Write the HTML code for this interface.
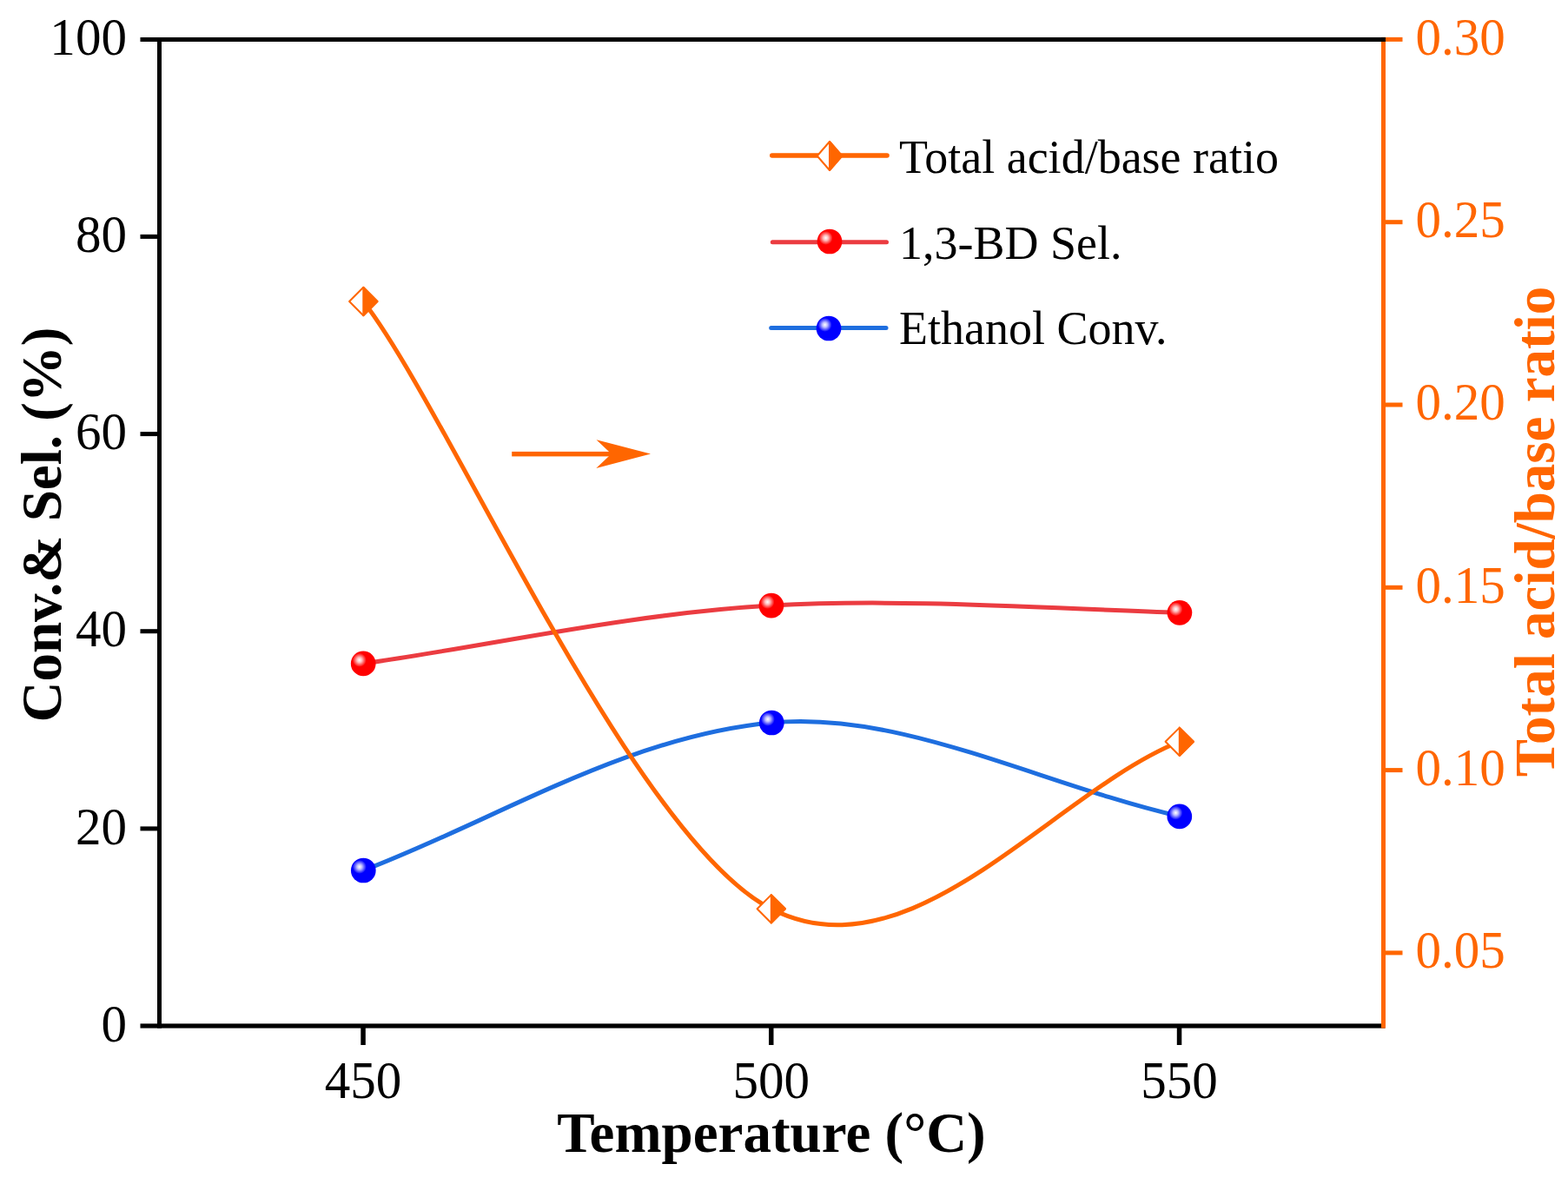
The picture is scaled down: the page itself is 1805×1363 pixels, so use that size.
<!DOCTYPE html>
<html><head><meta charset="utf-8"><title>Chart</title>
<style>html,body{margin:0;padding:0;background:#fff;}body{width:1805px;height:1363px;overflow:hidden;}svg{display:block;}</style>
</head><body>
<svg width="1805" height="1363" viewBox="0 0 1805 1363"><defs>
<radialGradient id="hl" cx="0.5" cy="0.5" r="0.5"><stop offset="0" stop-color="#fff" stop-opacity="1"/><stop offset="0.35" stop-color="#fff" stop-opacity="0.75"/><stop offset="1" stop-color="#fff" stop-opacity="0"/></radialGradient>
</defs><rect width="1805" height="1363" fill="#fff"/><path d="M418.2,763.9 C556.0,744.9 721.4,706.7 887.9,697.1 C1039.0,688.4 1217.5,701.0 1357.9,705.3" fill="none" stroke="#EB3C41" stroke-width="5"/><path d="M418.3,1002.0 C571.7,943.7 719.8,847.7 888.3,832.0 C1038.1,818.0 1196.1,902.4 1357.8,939.8" fill="none" stroke="#1E6EDF" stroke-width="5"/><path d="M418.3,347.0 C518.2,475.8 728.6,965.4 887.8,1046.3 C1050.3,1128.8 1211.9,912.1 1357.8,853.8" fill="none" stroke="#FF6600" stroke-width="5"/><circle cx="418.2" cy="763.9" r="14.35" fill="#FF0000"/><circle cx="413.8" cy="759.8" r="8" fill="url(#hl)"/><circle cx="887.9" cy="697.1" r="14.35" fill="#FF0000"/><circle cx="883.5" cy="693.0" r="8" fill="url(#hl)"/><circle cx="1357.9" cy="705.3" r="14.35" fill="#FF0000"/><circle cx="1353.5" cy="701.2" r="8" fill="url(#hl)"/><circle cx="418.3" cy="1002" r="14.35" fill="#0000FF"/><circle cx="413.9" cy="997.9" r="8" fill="url(#hl)"/><circle cx="888.3" cy="832" r="14.35" fill="#0000FF"/><circle cx="883.9" cy="827.9" r="8" fill="url(#hl)"/><circle cx="1357.8" cy="939.8" r="14.35" fill="#0000FF"/><circle cx="1353.4" cy="935.7" r="8" fill="url(#hl)"/><path d="M418.3,330.8 L434.5,347.0 L418.3,363.2 L402.1,347.0 Z" fill="#fff" stroke="#FF6600" stroke-width="2.0" stroke-linejoin="round"/><path d="M418.3,330.8 L434.5,347.0 L418.3,363.2 Z" fill="#FF6600" stroke="#FF6600" stroke-width="2.0" stroke-linejoin="round"/><path d="M887.8,1030.1 L904.0,1046.3 L887.8,1062.5 L871.6,1046.3 Z" fill="#fff" stroke="#FF6600" stroke-width="2.0" stroke-linejoin="round"/><path d="M887.8,1030.1 L904.0,1046.3 L887.8,1062.5 Z" fill="#FF6600" stroke="#FF6600" stroke-width="2.0" stroke-linejoin="round"/><path d="M1357.8,837.6 L1374.0,853.8 L1357.8,870.0 L1341.6,853.8 Z" fill="#fff" stroke="#FF6600" stroke-width="2.0" stroke-linejoin="round"/><path d="M1357.8,837.6 L1374.0,853.8 L1357.8,870.0 Z" fill="#FF6600" stroke="#FF6600" stroke-width="2.0" stroke-linejoin="round"/><g fill="#000"><rect x="181" y="43" width="5" height="1140.6"/><rect x="161.5" y="1178.4" width="1433" height="5.2"/><rect x="161.5" y="951.4" width="20" height="5"/><rect x="161.5" y="724.2" width="20" height="5"/><rect x="161.5" y="497.1" width="20" height="5"/><rect x="161.5" y="269.9" width="20" height="5"/><rect x="415.3" y="1183" width="5.5" height="20"/><rect x="885.0" y="1183" width="5.5" height="20"/><rect x="1354.8" y="1183" width="5.5" height="20"/></g><g fill="#FF6600"><rect x="1590" y="42.8" width="5" height="1140.8"/><rect x="1595" y="1094.4" width="19.5" height="5"/><rect x="1595" y="884.1" width="19.5" height="5"/><rect x="1595" y="673.8" width="19.5" height="5"/><rect x="1595" y="463.5" width="19.5" height="5"/><rect x="1595" y="253.2" width="19.5" height="5"/><rect x="1595" y="42.9" width="19.5" height="5"/></g><rect x="161.5" y="43" width="1433.5" height="5" fill="#000"/><g font-family="Liberation Serif, serif" font-size="60" fill="#000" text-anchor="end"><text transform="translate(146,1198.6) scale(0.985,1.025)">0</text><text transform="translate(146,971.5) scale(0.985,1.025)">20</text><text transform="translate(146,744.3) scale(0.985,1.025)">40</text><text transform="translate(146,517.2) scale(0.985,1.025)">60</text><text transform="translate(146,290.0) scale(0.985,1.025)">80</text><text transform="translate(146,62.9) scale(0.985,1.025)">100</text></g><g font-family="Liberation Serif, serif" font-size="60" fill="#000" text-anchor="middle"><text transform="translate(418.0,1264.3) scale(0.985,1.025)">450</text><text transform="translate(887.8,1264.3) scale(0.985,1.025)">500</text><text transform="translate(1357.5,1264.3) scale(0.985,1.025)">550</text></g><g font-family="Liberation Serif, serif" font-size="60" fill="#FF6600" text-anchor="start"><text transform="translate(1629.5,1114.1) scale(0.985,1.025)">0.05</text><text transform="translate(1629.5,903.8) scale(0.985,1.025)">0.10</text><text transform="translate(1629.5,693.5) scale(0.985,1.025)">0.15</text><text transform="translate(1629.5,483.2) scale(0.985,1.025)">0.20</text><text transform="translate(1629.5,272.9) scale(0.985,1.025)">0.25</text><text transform="translate(1629.5,62.6) scale(0.985,1.025)">0.30</text></g><text x="888" y="1326" font-family="Liberation Serif, serif" font-weight="bold" font-size="65" text-anchor="middle" fill="#000">Temperature (°C)</text><text transform="translate(70,604) rotate(-90)" font-family="Liberation Serif, serif" font-weight="bold" font-size="65" text-anchor="middle" fill="#000">Conv.&amp; Sel. (%)</text><text transform="translate(1788.5,612) rotate(-90)" font-family="Liberation Serif, serif" font-weight="bold" font-size="65" text-anchor="middle" fill="#FF6600">Total acid/base ratio</text><rect x="589.2" y="519.9" width="115" height="5.5" fill="#FF6600"/><path d="M749,522.6 L686.5,506.2 L703.7,522.6 L686.3,538.9 Z" fill="#FF6600"/><line x1="888.8" y1="179" x2="1021" y2="179" stroke="#FF6600" stroke-width="5.6" stroke-linecap="round"/><path d="M955.0,163.0 L969.3,179.5 L955.0,196.0 L940.7,179.5 Z" fill="#fff" stroke="#FF6600" stroke-width="2.0" stroke-linejoin="round"/><path d="M955.0,163.0 L969.3,179.5 L955.0,196.0 Z" fill="#FF6600" stroke="#FF6600" stroke-width="2.0" stroke-linejoin="round"/><line x1="889.3" y1="278.7" x2="1020.5" y2="278.7" stroke="#EB3C41" stroke-width="5" stroke-linecap="round"/><circle cx="955" cy="278" r="14.35" fill="#FF0000"/><circle cx="950.6" cy="273.9" r="8" fill="url(#hl)"/><line x1="887.7" y1="377.5" x2="1020" y2="377.5" stroke="#1E6EDF" stroke-width="5" stroke-linecap="round"/><circle cx="954" cy="378" r="14.35" fill="#0000FF"/><circle cx="949.6" cy="373.9" r="8" fill="url(#hl)"/><g font-family="Liberation Serif, serif" font-size="54" fill="#000"><text x="1035" y="199">Total acid/base ratio</text><text x="1035" y="298">1,3-BD Sel.</text><text x="1035" y="396">Ethanol Conv.</text></g></svg>
</body></html>
